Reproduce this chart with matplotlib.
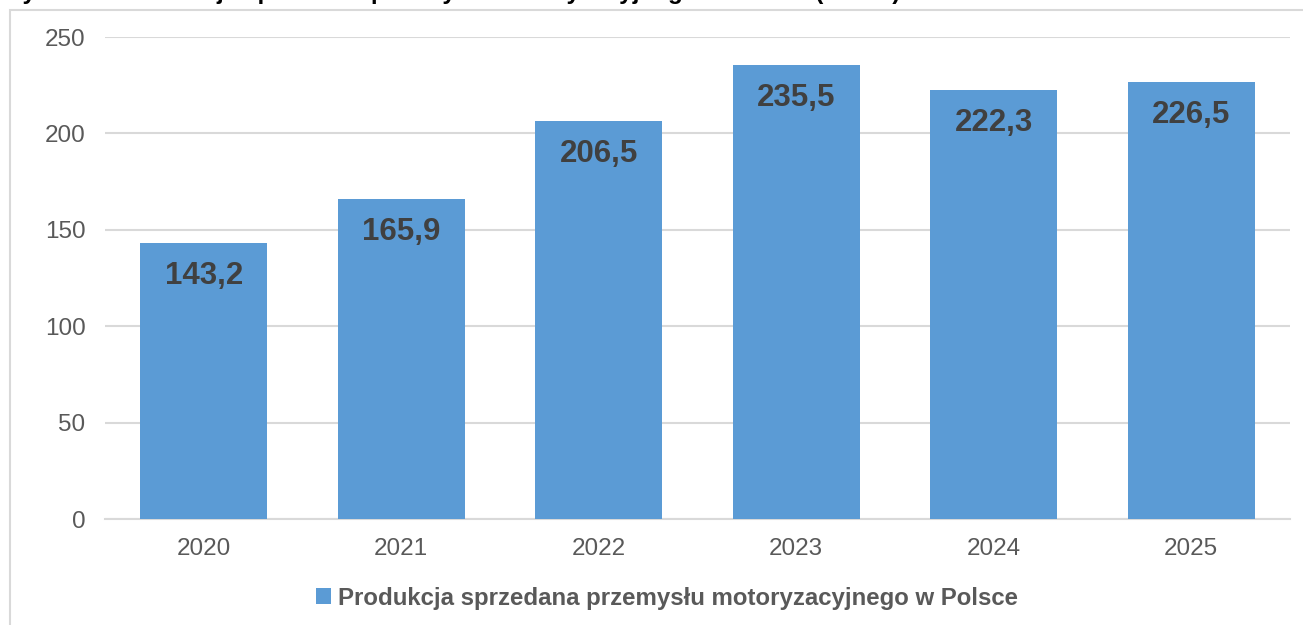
import matplotlib.pyplot as plt
from matplotlib.patches import Rectangle

plt.rcParams['font.family'] = ['Liberation Sans', 'DejaVu Sans']

years = ['2020', '2021', '2022', '2023', '2024', '2025']
values = [143.2, 165.9, 206.5, 235.5, 222.3, 226.5]
labels = ['143,2', '165,9', '206,5', '235,5', '222,3', '226,5']
series_name = 'Produkcja sprzedana przemysłu motoryzacyjnego w Polsce'
title = 'Wykres 1. Produkcja sprzedana przemysłu motoryzacyjnego w Polsce (mld zł)'

fig = plt.figure(figsize=(13.03, 6.25), dpi=100)
ax = fig.add_axes([105/1303, 0.1696, 1185/1303, 0.7712])

# outer frame of the chart area
fig.patches.append(Rectangle((10/1303, -0.1), 1.2, 1 - 10/625 + 0.1, transform=fig.transFigure,
                             fill=False, edgecolor='#d9d9d9', linewidth=1.5))

x = range(len(years))
bars = ax.bar(x, values, width=0.643, color='#5b9bd5', zorder=3)
for i, v in enumerate(values):
    ax.annotate(labels[i], (i, v), xytext=(0, -13), textcoords='offset points',
                ha='center', va='top', fontsize=22.5, fontweight='bold', color='#404040', zorder=4)

ax.set_ylim(0, 250)
ax.set_xlim(-0.5, len(years) - 0.5)
ax.set_yticks(range(0, 251, 50))
ax.set_xticks(list(x))
ax.set_xticklabels(years)
ax.tick_params(axis='both', length=0, labelsize=17.5, colors='#595959')
ax.tick_params(axis='y', pad=14)
ax.tick_params(axis='x', pad=14)
ax.yaxis.grid(True, color='#d9d9d9', linewidth=1.5, zorder=0)
for s in ['top', 'right', 'left']:
    ax.spines[s].set_visible(False)
ax.spines['bottom'].set_color('#d9d9d9')
ax.spines['bottom'].set_linewidth(1.5)

fig.legend([bars], [series_name], loc='center', bbox_to_anchor=(0.512, 1 - 598/625),
           frameon=False, handlelength=0.6, handleheight=0.6, handletextpad=0.3,
           prop={'size': 17.3, 'weight': 'bold'}, labelcolor='#595959')

# title, mostly cut off at the top edge as in the source
fig.text(0.0, 1.0 + 7/625, title, ha='left', va='center', fontsize=17.5, fontweight='bold', color='black')

fig.savefig('out.png', dpi=100)
